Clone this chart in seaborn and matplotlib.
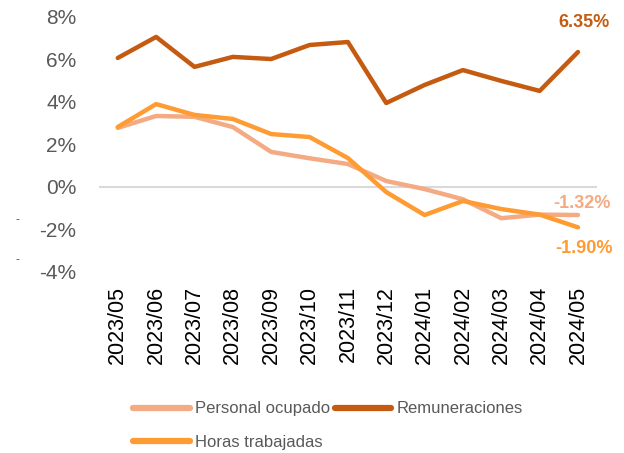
import matplotlib
matplotlib.use("Agg")
import matplotlib.pyplot as plt
import seaborn as sns
import pandas as pd

months = ["2023/05", "2023/06", "2023/07", "2023/08", "2023/09", "2023/10", "2023/11",
          "2023/12", "2024/01", "2024/02", "2024/03", "2024/04", "2024/05"]
personal = [2.78, 3.34, 3.30, 2.82, 1.65, 1.35, 1.08, 0.28, -0.10, -0.58, -1.47, -1.30, -1.32]
remuneraciones = [6.07, 7.06, 5.65, 6.12, 6.02, 6.68, 6.82, 3.95, 4.80, 5.50, 4.99, 4.52, 6.35]
horas = [2.82, 3.90, 3.39, 3.20, 2.49, 2.35, 1.36, -0.24, -1.32, -0.66, -1.04, -1.30, -1.90]

series_names = ["Personal ocupado", "Remuneraciones", "Horas trabajadas"]
colors = {"Personal ocupado": "#F4AA82", "Remuneraciones": "#C55A11", "Horas trabajadas": "#FF9B33"}

df = pd.concat([
    pd.DataFrame({"mes": months, "valor": personal, "serie": "Personal ocupado"}),
    pd.DataFrame({"mes": months, "valor": remuneraciones, "serie": "Remuneraciones"}),
    pd.DataFrame({"mes": months, "valor": horas, "serie": "Horas trabajadas"}),
])

sns.set_style("white")
plt.rcParams["font.family"] = ["Liberation Sans", "DejaVu Sans"]

fig = plt.figure(figsize=(6.24, 4.53), dpi=100)
ax = fig.add_axes([0.158, 0.3996, 0.799, 0.563])

ax.axhline(0, color="#D9D9D9", lw=1.5, zorder=0)
sns.lineplot(data=df, x="mes", y="valor", hue="serie", hue_order=series_names,
             palette=colors, linewidth=3.2, sort=False, ax=ax, legend=False)

ax.set_ylim(-4, 8)
ax.set_xlim(-0.5, len(months) - 0.5)
ax.set_yticks(range(-4, 9, 2))
ax.set_yticklabels([f"{v}%" for v in range(-4, 9, 2)], fontsize=15, color="#595959")
ax.set_xticks(range(len(months)))
ax.set_xticklabels(months, rotation=90, fontsize=15.5, color="black")
ax.tick_params(axis="y", length=0, pad=16)
ax.tick_params(axis="x", length=0, pad=10)
ax.set_xlabel("")
ax.set_ylabel("")
sns.despine(ax=ax, left=True, bottom=True)

# end labels
last = len(months) - 1
ax.annotate(f"{remuneraciones[-1]:.2f}%", (last, remuneraciones[-1]), xytext=(4, 15),
            textcoords="offset points", ha="center", va="bottom", fontsize=13,
            fontweight="bold", color=colors["Remuneraciones"])
ax.annotate(f"{personal[-1]:.2f}%", (last, personal[-1]), xytext=(3, 2),
            textcoords="offset points", ha="center", va="bottom", fontsize=13,
            fontweight="bold", color=colors["Personal ocupado"])
ax.annotate(f"{horas[-1]:.2f}%", (last, horas[-1]), xytext=(4, -9),
            textcoords="offset points", ha="center", va="top", fontsize=13,
            fontweight="bold", color=colors["Horas trabajadas"])

# stray dashes at left edge
fig.text(0.028, 1 - 220 / 453, "-", fontsize=9, color="#595959", ha="center", va="center")
fig.text(0.028, 1 - 260 / 453, "-", fontsize=9, color="#595959", ha="center", va="center")

handles = [plt.Line2D([], [], color=colors[n], lw=4.5, solid_capstyle="round") for n in series_names]
order = [0, 2, 1]
fig.legend([handles[i] for i in order], [series_names[i] for i in order],
           loc="upper left", bbox_to_anchor=(0.189, 0.147), ncol=2, frameon=False,
           fontsize=12, labelcolor="#595959", handlelength=3.4, handletextpad=0.3,
           columnspacing=0.3, labelspacing=1.1)

fig.savefig("out.png", dpi=100)
